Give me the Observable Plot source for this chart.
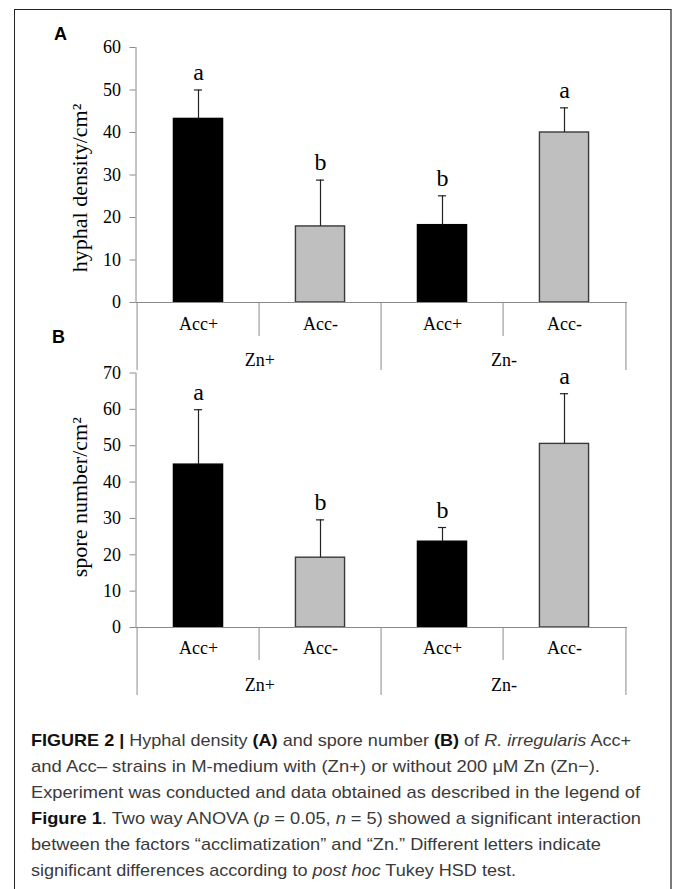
<!DOCTYPE html>
<html>
<head>
<meta charset="utf-8">
<script src="https://cdn.jsdelivr.net/npm/d3@7"></script>
<script src="https://cdn.jsdelivr.net/npm/@observablehq/plot@0.6"></script>
<style>
  html, body { margin: 0; padding: 0; background: #fff; width: 673px; height: 889px; overflow: hidden; }
  #page { position: relative; width: 673px; height: 889px; }
  #box { position: absolute; left: 14px; top: 9px; width: 655px; height: 920px;
         border-left: 1.5px solid #222; border-top: 1.5px solid #222; border-right: 2px solid #7a7a7a; }
  .plot { position: absolute; left: 0; }
  .panel { position: absolute; font-family: "Liberation Sans", Arial, sans-serif; font-weight: bold; font-size: 18px; color: #000; }
  #caption { position: absolute; left: 31px; top: 728px; font-family: "Liberation Sans", Arial, sans-serif;
             font-size: 17px; line-height: 26.1px; color: #3a3a3a; }
  #caption .ln { white-space: nowrap; display: block; height: 26.1px; }
  #caption .ln span.t { display: inline-block; transform-origin: 0 50%; }
  #caption b { color: #111; }
</style>
</head>
<body>
<div id="page">
  <div id="box"></div>
  <div class="panel" style="left:54px; top:24px;">A</div>
  <div class="panel" style="left:52px; top:327px;">B</div>
  <div id="plotA" class="plot" style="top:0px;"></div>
  <div id="plotB" class="plot" style="top:325px;"></div>
  <div id="caption">
    <div class="ln" data-w="600"><span class="t"><b>FIGURE 2 |</b> Hyphal density <b>(A)</b> and spore number <b>(B)</b> of <i>R. irregularis</i> Acc+</span></div>
    <div class="ln" data-w="569"><span class="t">and Acc– strains in M-medium with (Zn+) or without 200 μM Zn (Zn−).</span></div>
    <div class="ln" data-w="609"><span class="t">Experiment was conducted and data obtained as described in the legend of</span></div>
    <div class="ln" data-w="610"><span class="t"><b>Figure 1</b>. Two way ANOVA (<i>p</i> = 0.05, <i>n</i> = 5) showed a significant interaction</span></div>
    <div class="ln" data-w="570"><span class="t">between the factors “acclimatization” and “Zn.” Different letters indicate</span></div>
    <div class="ln" data-w="485"><span class="t">significant differences according to <i>post hoc</i> Tukey HSD test.</span></div>
  </div>
</div>
<script>
// ---- data ----
const zn = ["Zn+", "Zn+", "Zn-", "Zn-"];
const acc = ["Acc+", "Acc-", "Acc+", "Acc-"];
const hyphalMean = [43.2, 17.9, 18.2, 40.0];
const hyphalSD = [6.8, 10.9, 6.9, 5.8];
const hyphalLetters = ["a", "b", "b", "a"];
const sporeMean = [44.8, 19.2, 23.6, 50.5];
const sporeSD = [15.1, 10.4, 3.9, 13.8];
const sporeLetters = ["a", "b", "b", "a"];
const yTicksA = [0, 10, 20, 30, 40, 50, 60];
const yTicksB = [0, 10, 20, 30, 40, 50, 60, 70];
const yLabelA = "hyphal density/cm²";
const yLabelB = "spore number/cm²";

const W = 673, ML = 135.5, MR = 46;
const bw = (W - ML - MR) / acc.length;
const barW = 50, capW = 9;
const axisGray = "#8a8a8a";
const FS = 18;

function rowsOf(mean, sd, letters) {
  return acc.map((a, i) => ({
    key: zn[i] + "|" + a, zn: zn[i], acc: a,
    mean: mean[i], top: mean[i] + sd[i], letter: letters[i],
    fill: a === "Acc+" ? "#000000" : "#bfbfbf",
    stroke: a === "Acc+" ? "#000000" : "#3a3a3a"
  }));
}

function panel({mean, sd, letters, ticks, label, labelDy, height, marginTop, marginBottom, accDy, znDy, shortLen, longLen}) {
  const rows = rowsOf(mean, sd, letters);
  const keys = rows.map(d => d.key);
  const innerH = height - marginTop - marginBottom;
  const groupStarts = rows.filter((d, i) => i === 0 || rows[i - 1].zn !== d.zn);
  const inner = rows.filter((d, i) => i > 0 && rows[i - 1].zn === d.zn);
  return Plot.plot({
    width: W, height, marginLeft: ML, marginRight: MR, marginTop, marginBottom,
    style: {fontFamily: "'Liberation Serif', 'Times New Roman', serif", fontSize: FS + "px", color: "#000", background: "transparent", overflow: "visible"},
    x: {type: "band", domain: keys, padding: 0, axis: null},
    y: {domain: [0, ticks[ticks.length - 1]], axis: null},
    marks: [
      Plot.axisY({ticks, tickSize: 6, tickPadding: 9, stroke: axisGray, fill: "#000", label: null, fontSize: FS}),
      Plot.frame({anchor: "left", stroke: axisGray}),
      Plot.barY(rows, {x: "key", y: "mean", fill: "fill", stroke: "stroke", strokeWidth: 1.4,
        insetLeft: (bw - barW) / 2, insetRight: (bw - barW) / 2}),
      Plot.ruleY([0], {stroke: axisGray, strokeWidth: 1.2}),
      Plot.ruleX(rows, {x: "key", y1: "mean", y2: "top", stroke: "#222", strokeWidth: 1.2}),
      Plot.tickY(rows, {x: "key", y: "top", stroke: "#222", strokeWidth: 1.2,
        insetLeft: (bw - capW) / 2, insetRight: (bw - capW) / 2}),
      Plot.text(rows, {x: "key", y: "top", text: "letter", lineAnchor: "bottom", dy: -10, fontSize: 24, fill: "#000"}),
      // category axis separators
      Plot.ruleX(inner, {x: "key", dx: -bw / 2, stroke: axisGray, insetTop: innerH, insetBottom: -shortLen}),
      Plot.ruleX(groupStarts, {x: "key", dx: -bw / 2, stroke: axisGray, insetTop: innerH, insetBottom: -longLen}),
      Plot.ruleX(rows.slice(-1), {x: "key", dx: bw / 2, stroke: axisGray, insetTop: innerH, insetBottom: -longLen}),
      Plot.text(rows, {x: "key", text: "acc", frameAnchor: "bottom", dy: accDy, lineAnchor: "middle", fontSize: FS, fill: "#000"}),
      Plot.text(groupStarts, {x: "key", text: "zn", frameAnchor: "bottom", dx: bw / 2, dy: znDy, lineAnchor: "middle", fontSize: FS, fill: "#000"}),
      Plot.text([label], {frameAnchor: "left", text: d => d, rotate: -90, textAnchor: "middle", dx: -56.5, dy: labelDy, fontSize: 22, lineAnchor: "middle", fill: "#000"})
    ]
  });
}

document.getElementById("plotA").append(panel({
  mean: hyphalMean, sd: hyphalSD, letters: hyphalLetters, ticks: yTicksA, label: yLabelA, labelDy: 13,
  height: 372, marginTop: 47, marginBottom: 70, accDy: 22, znDy: 58, shortLen: 34, longLen: 68
}));
document.getElementById("plotB").append(panel({
  mean: sporeMean, sd: sporeSD, letters: sporeLetters, ticks: yTicksB, label: yLabelB, labelDy: -3,
  height: 380, marginTop: 47.5, marginBottom: 78, accDy: 21, znDy: 58, shortLen: 33, longLen: 68
}));

// fit caption lines to reference line widths
document.querySelectorAll("#caption .ln").forEach(ln => {
  const t = ln.querySelector(".t");
  const w = t.getBoundingClientRect().width;
  const target = +ln.dataset.w;
  if (w > 0) t.style.transform = `scaleX(${target / w})`;
});
</script>
</body>
</html>
